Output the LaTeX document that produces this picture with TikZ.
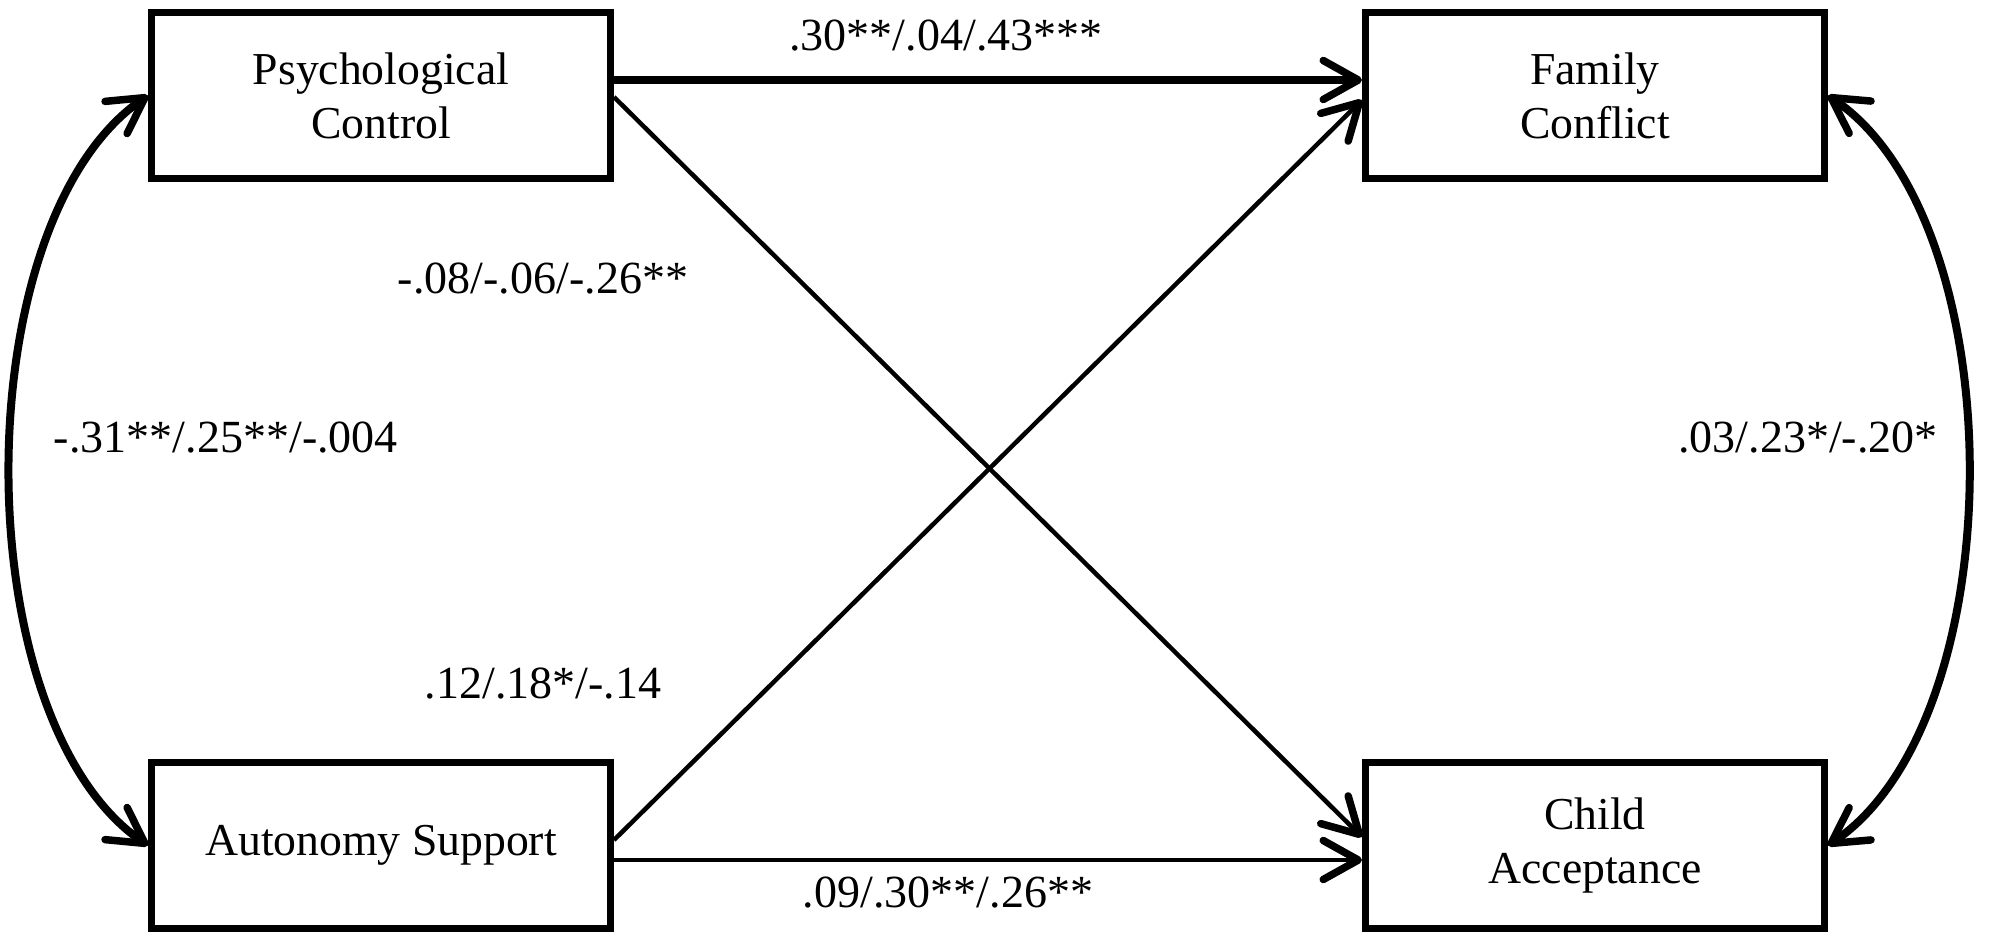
\documentclass[tikz,border=0pt]{standalone}
\usepackage{fontspec}
\setmainfont{Liberation Serif}
\usetikzlibrary{arrows.meta}
\tikzset{
  barb/.tip={Straight Barb[length=3.5mm,width=3.9mm,line width=0.75mm,round]},
  box/.style={draw, line width=0.7mm, minimum width=45.9mm, minimum height=16.6mm,
    inner sep=0pt, align=center, font=\fontsize{13}{15.3}\selectfont},
  lbl/.style={inner sep=0pt, anchor=base, font=\fontsize{13.1}{15}\selectfont},
  thickpath/.style={line width=0.8mm, -barb},
  thinpath/.style={line width=0.45mm, -barb},
  corr/.style={line width=0.8mm, barb-barb},
}
\begin{document}
\begin{tikzpicture}[x=0.1mm, y=-0.1mm]
\fill[white] (0,0) rectangle (2003,942);
\useasboundingbox (0,0) rectangle (2003,942);

\node[box] (PC) at (381,95.5) {Psychological\\Control};
\node[box] (FC) at (1595,95.5) {Family\\Conflict};
\node[box] (AS) at (381,845.5) {Autonomy Support};
\node[box] (CA) at (1595,845.5) {Child\\Acceptance};

\draw[thickpath] ([yshift=1.55mm]PC.east) -- ([yshift=1.55mm]FC.west);
\draw[thinpath] ([yshift=-1.45mm]AS.east) -- ([yshift=-1.45mm]CA.west);
\draw[thinpath] ([yshift=-0.15mm]PC.east) -- ([yshift=0.85mm]CA.west);
\draw[thinpath] ([yshift=0.55mm]AS.east) -- ([yshift=-0.45mm]FC.west);

\draw[corr] (PC.west) .. controls (-36,222) and (-36,719) .. (AS.west);
\draw[corr] (FC.east) .. controls (2015,222) and (2015,719) .. (CA.east);

\node[lbl] (l1) at (946,50) {.30**/.04/.43***};
\node[lbl] (l2) at (948,907) {.09/.30**/.26**};
\node[lbl] (l3) at (543,293) {-.08/-.06/-.26**};
\node[lbl] (l4) at (543,698) {.12/.18*/-.14};
\node[lbl] (l5) at (226,452) {-.31**/.25**/-.004};
\node[lbl] (l6) at (1808,452) {.03/.23*/-.20*};
\end{tikzpicture}
\end{document}
